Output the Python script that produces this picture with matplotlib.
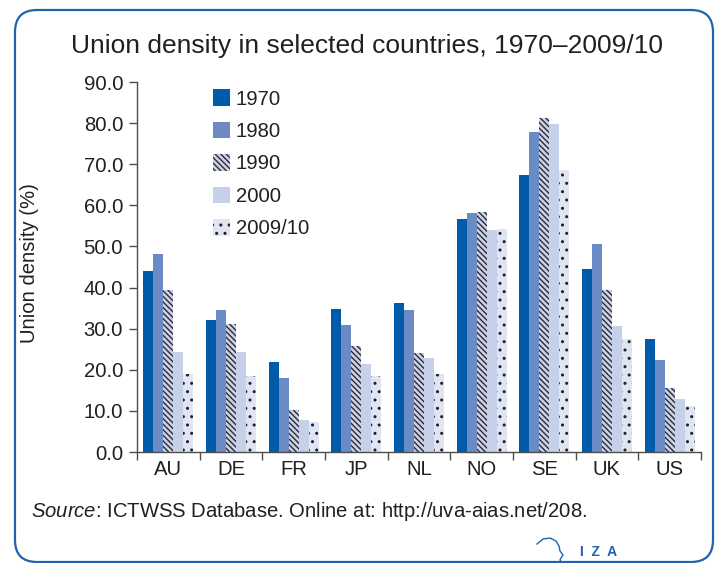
import numpy as np
import matplotlib
matplotlib.use("Agg")
import matplotlib.pyplot as plt
from matplotlib.patches import FancyBboxPatch
from matplotlib.transforms import IdentityTransform

countries = ["AU", "DE", "FR", "JP", "NL", "NO", "SE", "UK", "US"]
years = ["1970", "1980", "1990", "2000", "2009/10"]
d1970 = [44.1, 32.0, 21.8, 34.9, 36.3, 56.7, 67.4, 44.6, 27.4]
d1980 = [48.2, 34.6, 18.1, 31.0, 34.6, 58.2, 77.9, 50.7, 22.3]
d1990 = [39.4, 31.2, 10.1, 25.9, 24.2, 58.4, 81.3, 39.3, 15.5]
d2000 = [24.4, 24.4, 7.9, 21.5, 22.8, 54.1, 79.8, 30.6, 12.8]
d2010 = [19.0, 18.4, 7.4, 18.4, 19.0, 54.3, 68.6, 27.4, 11.3]
series = [d1970, d1980, d1990, d2000, d2010]

plt.rcParams['font.family'] = ['Liberation Sans', 'DejaVu Sans']
plt.rcParams['mathtext.fontset'] = 'custom'
plt.rcParams['mathtext.rm'] = 'Liberation Sans'
plt.rcParams['mathtext.it'] = 'Liberation Sans:italic'
plt.rcParams['hatch.linewidth'] = 1.0

txt = '#231f20'
blue = '#1f63ad'
fs = 14.6

# fill, hatch, hatch colour
styles = [
    ('#005baa', None, 'none'),
    ('#6a8bc6', None, 'none'),
    ('#cdd3e6', '\\' * 6, '#2a2a38'),
    ('#c6d0e8', None, 'none'),
    ('#dfe5f3', '..', '#222222'),
]

fig = plt.figure(figsize=(7.2, 5.63), dpi=100)
ax = fig.add_axes([137/720, 1-452/563, (701-137)/720, 370/563])

x = np.arange(len(countries))
w = 0.16
for i, vals in enumerate(series):
    fc, h, ec = styles[i]
    ax.bar(x + (i-2)*w, vals, w, color=fc, hatch=h, edgecolor=ec,
           linewidth=0, label=years[i], zorder=2)

ax.set_xlim(-0.5, len(countries)-0.5)
ax.set_ylim(0, 90)
ax.set_yticks(np.arange(0, 91, 10))
ax.set_yticklabels(['%.1f' % v for v in np.arange(0, 91, 10)])
ax.set_xticks(x)
ax.set_xticklabels(countries)
ax.set_xticks(np.arange(-0.5, len(countries)), minor=True)
ax.tick_params(axis='x', which='major', length=0, pad=6, labelsize=fs, labelcolor=txt)
ax.tick_params(axis='x', which='minor', length=6, width=1, color='#4d4d4d')
ax.tick_params(axis='y', length=6, width=1, pad=4, labelsize=fs, labelcolor=txt, color='#4d4d4d')
for s in ['top', 'right']:
    ax.spines[s].set_visible(False)
for s in ['left', 'bottom']:
    ax.spines[s].set_color('#4d4d4d')
    ax.spines[s].set_linewidth(1)

ax.legend(loc='upper left', bbox_to_anchor=(0.1348, 0.98), frameon=False,
          fontsize=fs, handlelength=0.85, handleheight=0.85, handletextpad=0.28,
          labelspacing=0.66, borderpad=0, borderaxespad=0, labelcolor=txt)

fig.text(30/720, 0.532, 'Union density (%)', rotation=90, ha='center', va='center',
         fontsize=fs, color=txt)
fig.text(367/720, 1-53/563, 'Union density in selected countries, 1970\u20132009/10',
         ha='center', va='baseline', fontsize=19, color=txt)
fig.text(31/720, 1-517/563, r'$\it{Source}$: ICTWSS Database. Online at: http://uva-aias.net/208.',
         ha='left', va='baseline', fontsize=fs, color=txt)

# rounded frame
frame = FancyBboxPatch((15, 1), 698, 552, boxstyle='round,pad=0,rounding_size=22',
                       transform=IdentityTransform(), fill=False, edgecolor=blue,
                       linewidth=1.6)
fig.add_artist(frame)

# IZA logo
fig.text(580/720, 1-552/563, 'I  Z  A', ha='left', va='center', fontsize=10,
         fontweight='bold', color=blue)
px = np.array([537, 543, 550, 556, 559, 560, 563, 561, 560, 562])
py = np.array([544, 539, 538, 541, 546, 551, 555, 558, 560, 563])
fig.add_artist(plt.Line2D(px/720, 1-py/563, transform=fig.transFigure,
                          color=blue, linewidth=1))

fig.savefig('out.png', dpi=100)
